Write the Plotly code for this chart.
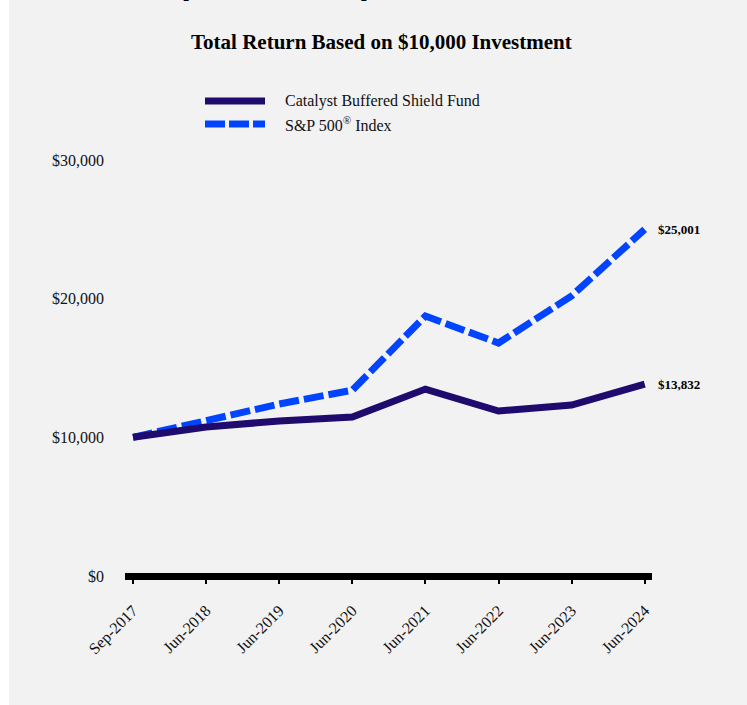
import plotly.graph_objects as go

# ---- data ----
periods = ["Sep-2017", "Jun-2018", "Jun-2019", "Jun-2020", "Jun-2021", "Jun-2022", "Jun-2023", "Jun-2024"]
fund_values = [10000, 10750, 11180, 11460, 13480, 11900, 12330, 13832]
sp500_values = [10000, 11250, 12400, 13400, 18750, 16800, 20200, 25001]
fund_name = "Catalyst Buffered Shield Fund"
sp500_name = "S&P 500<sup>®</sup> Index"
y_ticks = [0, 10000, 20000, 30000]
y_tick_labels = ["$0", "$10,000", "$20,000", "$30,000"]

FUND_COLOR = "#1f0a6e"
SP_COLOR = "#0044ff"
FONT = "Liberation Serif"

W, H = 747, 705
L, PR, T, PB = 125, 652, 160, 576
R = W - PR
B = H - PB
pw, ph = PR - L, PB - T


def px_x(p):
    return (p - L) / pw


def px_y(p):
    return (PB - p) / ph


fig = go.Figure()
idx = list(range(len(periods)))
fig.add_trace(go.Scatter(x=idx, y=sp500_values, mode="lines", name="S&P 500® Index",
                         line=dict(color=SP_COLOR, width=7, dash="20px,5px"), showlegend=False))
fig.add_trace(go.Scatter(x=idx, y=fund_values, mode="lines", name=fund_name,
                         line=dict(color=FUND_COLOR, width=7), showlegend=False))

shapes = [
    dict(type="rect", xref="paper", yref="paper", x0=px_x(9), x1=px_x(770), y0=px_y(730), y1=px_y(-20),
         fillcolor="#f2f2f2", line=dict(width=0), layer="below"),
    # legend samples
    dict(type="line", xref="paper", yref="paper", x0=px_x(205), x1=px_x(265), y0=px_y(101), y1=px_y(101),
         line=dict(color=FUND_COLOR, width=7)),
    dict(type="line", xref="paper", yref="paper", x0=px_x(205), x1=px_x(265), y0=px_y(124), y1=px_y(124),
         line=dict(color=SP_COLOR, width=7, dash="20px,4px")),
]

annotations = [
    dict(text="<b>How has the Fund performed since inception?</b>", xref="paper", yref="paper",
         x=px_x(20), y=px_y(3.5), xanchor="left", yanchor="bottom", showarrow=False,
         font=dict(family=FONT, size=20, color="black")),
    dict(text="<b>Total Return Based on $10,000 Investment</b>", xref="paper", yref="paper",
         x=px_x(381), y=px_y(42), xanchor="center", yanchor="middle", showarrow=False,
         font=dict(family=FONT, size=21, color="black")),
    dict(text=fund_name, xref="paper", yref="paper", x=px_x(283), y=px_y(101), xanchor="left",
         yanchor="middle", showarrow=False, font=dict(family=FONT, size=16, color="#111")),
    dict(text=sp500_name, xref="paper", yref="paper", x=px_x(283), y=px_y(124), xanchor="left",
         yanchor="middle", showarrow=False, font=dict(family=FONT, size=16, color="#111")),
    dict(text="<b>$" + f"{sp500_values[-1]:,}" + "</b>", x=idx[-1], y=sp500_values[-1], xanchor="left",
         yanchor="middle", xshift=11, showarrow=False, font=dict(family=FONT, size=13, color="black")),
    dict(text="<b>$" + f"{fund_values[-1]:,}" + "</b>", x=idx[-1], y=fund_values[-1], xanchor="left",
         yanchor="middle", xshift=11, showarrow=False, font=dict(family=FONT, size=13, color="black")),
]

fig.update_layout(
    width=W, height=H,
    margin=dict(l=L, r=R, t=T, b=B, pad=0),
    paper_bgcolor="white",
    plot_bgcolor="rgba(0,0,0,0)",
    shapes=shapes,
    annotations=annotations,
    showlegend=False,
    font=dict(family=FONT, size=15, color="#111"),
    xaxis=dict(
        range=[-0.11, len(periods) - 1 + 0.1],
        tickmode="array", tickvals=idx, ticktext=periods,
        tickangle=-45, ticks="outside", ticklen=7, tickwidth=2, tickcolor="black",
        showgrid=False, zeroline=False, showline=False, ticklabelstandoff=11,
        tickfont=dict(family=FONT, size=16, color="#111"),
    ),
    yaxis=dict(
        range=[0, 30000],
        tickmode="array", tickvals=y_ticks, ticktext=y_tick_labels,
        showgrid=False, zeroline=True, zerolinecolor="black", zerolinewidth=7,
        showline=False, ticks="", ticklabelstandoff=20,
        tickfont=dict(family=FONT, size=16, color="#111"),
    ),
)

fig.write_html("out.html", config={"displayModeBar": False},
               post_script="document.body.style.margin='0';document.body.style.overflow='hidden';")
